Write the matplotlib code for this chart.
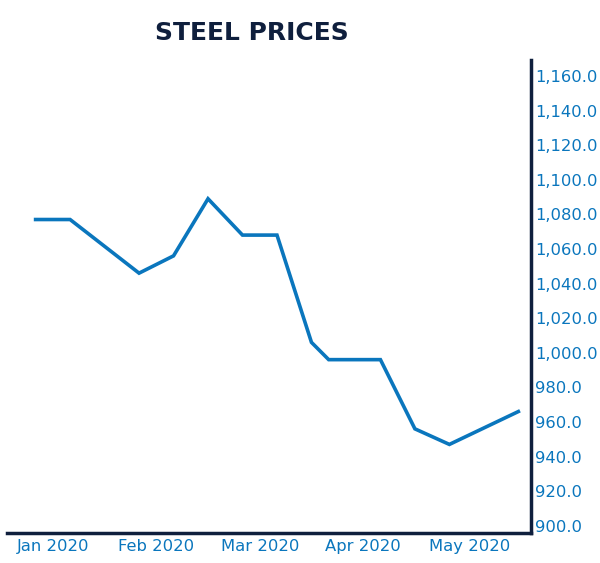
import numpy as np
import pandas as pd
import matplotlib
matplotlib.use("Agg")
import matplotlib.pyplot as plt
from matplotlib.ticker import FuncFormatter

# data
dates = pd.to_datetime([
    "2020-01-10", "2020-01-20", "2020-02-09", "2020-02-19", "2020-02-29",
    "2020-03-10", "2020-03-20", "2020-03-30", "2020-04-04", "2020-04-19",
    "2020-04-29", "2020-05-09", "2020-05-29",
])
prices = [1077, 1077, 1046, 1056, 1089, 1068, 1068, 1006, 996, 996, 956, 947, 966]

month_ticks = pd.to_datetime(["2020-01-15", "2020-02-14", "2020-03-15", "2020-04-14", "2020-05-15"])
month_labels = ["Jan 2020", "Feb 2020", "Mar 2020", "Apr 2020", "May 2020"]
y_ticks = np.arange(900, 1161, 20)

navy = "#0f1f3d"
blue = "#0a76bd"

plt.rcParams["font.family"] = ["DejaVu Sans"]

fig = plt.figure(figsize=(6, 5.63), dpi=100)
ax = fig.add_axes([0.0117, 0.0533, 0.8733, 0.8401])

ax.plot(dates, prices, color=blue, linewidth=2.6, solid_joinstyle="miter")

ax.set_xlim(pd.Timestamp("2020-01-01 17:00"), pd.Timestamp("2020-06-01 16:00"))
ax.set_ylim(895.8, 1169.2)

ax.set_xticks(month_ticks)
ax.set_xticklabels(month_labels)
ax.set_yticks(y_ticks)
ax.yaxis.set_major_formatter(FuncFormatter(lambda v, p: f"{v:,.1f}"))

ax.yaxis.tick_right()
ax.tick_params(axis="both", length=0, colors=blue, labelsize=11.8)
ax.tick_params(axis="y", pad=3)
ax.tick_params(axis="x", pad=4.5)

for side in ["top", "left"]:
    ax.spines[side].set_visible(False)
for side in ["bottom", "right"]:
    ax.spines[side].set_color(navy)
    ax.spines[side].set_linewidth(2.5)

fig.text(0.42, 0.941, "STEEL PRICES", ha="center", va="center",
         fontsize=18, fontweight="bold", color=navy)

fig.savefig("out.png", dpi=100)
